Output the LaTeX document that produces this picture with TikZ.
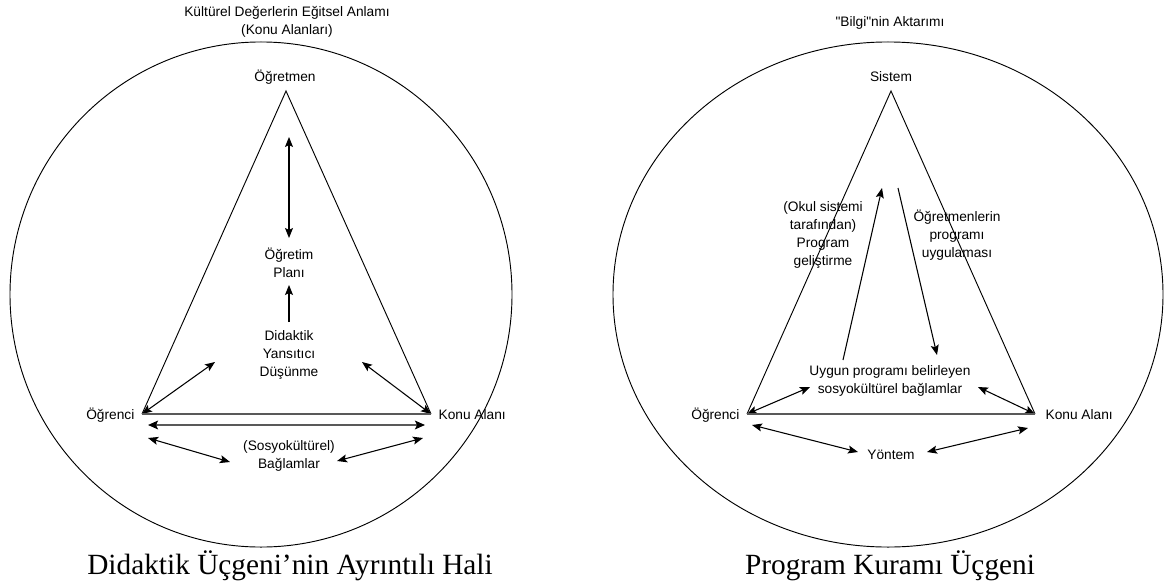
\documentclass[tikz,border=0pt]{standalone}
\usepackage{fontspec}
\newfontfamily\lblfont{Liberation Sans}
\newfontfamily\capfont{Liberation Serif}
\usetikzlibrary{arrows.meta,calc}
\newcommand{\lbl}{\lblfont\fontsize{10.3}{13.5}\selectfont}

\begin{document}
\begin{tikzpicture}[x=0.75pt,y=-0.75pt,
	txt/.style={font=\lbl,align=center,inner sep=1pt},
	capt/.style={font=\capfont\fontsize{22}{24}\selectfont,inner sep=0pt},
	edge/.style={black,line width=0.7pt},
	arr/.style={black,line width=0.8pt,{Stealth[length=7.5pt,width=6pt,inset=1.5pt]}-{Stealth[length=7.5pt,width=6pt,inset=1.5pt]}},
	arr1/.style={black,line width=0.8pt,-{Stealth[length=7.5pt,width=6pt,inset=1.5pt]}},
	base/.style={black!65,line width=2pt},
	basearr/.style={black!65,line width=2pt,{Stealth[length=7.5pt,width=6.5pt,inset=1.5pt,color=black]}-{Stealth[length=7.5pt,width=6.5pt,inset=1.5pt,color=black]}}]
	\useasboundingbox (0,0) rectangle (1167,585);
	%	\draw[help lines] (0,0) grid[step=50] (1167,585);

	% ---- left: didaktik ucgen
	\node[txt] (titleL) at (287,22) {Kültürel Değerlerin Eğitsel Anlamı\\(Konu Alanları)};
	\draw[edge] (261,294.5) ellipse [x radius=188.25pt, y radius=189.4pt];
	\node[txt] (ogretmen) at (285,77) {Öğretmen};
	\coordinate (LA) at (286,91);
	\coordinate (LB) at (142,414);
	\coordinate (LC) at (431,414);
	\draw[edge] (LB) -- (LA) -- (LC);
	\node[txt,anchor=east] (ogrenciL) at (136,415) {Öğrenci};
	\node[txt,anchor=west] (konuL) at (437,415) {Konu Alanı};
	\node[txt] (plan) at (289,262.5) {Öğretim\\Planı};
	\node[txt] (didaktik) at (289,355) {Didaktik\\Yansıtıcı\\Düşünme};
	\node[txt] (baglam) at (289,456) {(Sosyokültürel)\\Bağlamlar};

	\coordinate (p1) at (289,137);
	\coordinate (p2) at (289,238);
	\coordinate (d1) at (289,322);
	\coordinate (d2) at (289,285);
	\coordinate (ld) at (215,362);
	\coordinate (rd) at (362,362);
	\coordinate (b1) at (148,425);
	\coordinate (b2) at (425,425);
	\coordinate (s1) at (148,438);
	\coordinate (s2) at (230,462);
	\coordinate (s3) at (423,438);
	\coordinate (s4) at (337,461);

	\draw[arr] (p1) -- (p2);
	\draw[arr1] (d1) -- (d2);
	\draw[arr] (LB) -- (ld);
	\draw[arr] (LC) -- (rd);
	\draw[base] (LB) -- (LC);
	\draw[basearr] (b1) -- (b2);
	\draw[arr] (s1) -- (s2);
	\draw[arr] (s3) -- (s4);

	\node[capt] (capL) at (290,566) {Didaktik Üçgeni’nin Ayrıntılı Hali};

	% ---- right: program kurami
	\node[txt] (titleR) at (890,23) {"Bilgi"nin Aktarımı};
	\draw[edge] (888,294.5) ellipse [x radius=206.25pt, y radius=189.4pt];
	\node[txt] (sistem) at (891,77) {Sistem};
	\coordinate (RA) at (891,91);
	\coordinate (RB) at (747,414);
	\coordinate (RC) at (1035,414);
	\draw[edge] (RB) -- (RA) -- (RC);
	\node[txt,anchor=east] (ogrenciR) at (741,415) {Öğrenci};
	\node[txt,anchor=west] (konuR) at (1044,415) {Konu Alanı};
	\node[txt] (okul) at (823,235) {(Okul sistemi\\tarafından)\\Program\\geliştirme};
	\node[txt] (uygula) at (957,235) {Öğretmenlerin\\programı\\uygulaması};
	\node[txt] (uygun) at (890,381) {Uygun programı belirleyen\\sosyokültürel bağlamlar};
	\node[txt] (yontem) at (891,455) {Yöntem};

	\coordinate (u1) at (843,360);
	\coordinate (u2) at (882,188);
	\coordinate (v1) at (898,188);
	\coordinate (v2) at (937,355);
	\coordinate (q1) at (810,387);
	\coordinate (q2) at (978,387);
	\coordinate (y1) at (752,425);
	\coordinate (y2) at (858,452);
	\coordinate (y3) at (1028,428);
	\coordinate (y4) at (927,452);

	\draw[arr1] (u1) -- (u2);
	\draw[arr1] (v1) -- (v2);
	\draw[arr] (RB) -- (q1);
	\draw[arr] (RC) -- (q2);
	\draw[base] (RB) -- (RC);
	\draw[arr] (y1) -- (y2);
	\draw[arr] (y3) -- (y4);

	\node[capt] (capR) at (890,566) {Program Kuramı Üçgeni};
\end{tikzpicture}
\end{document}
